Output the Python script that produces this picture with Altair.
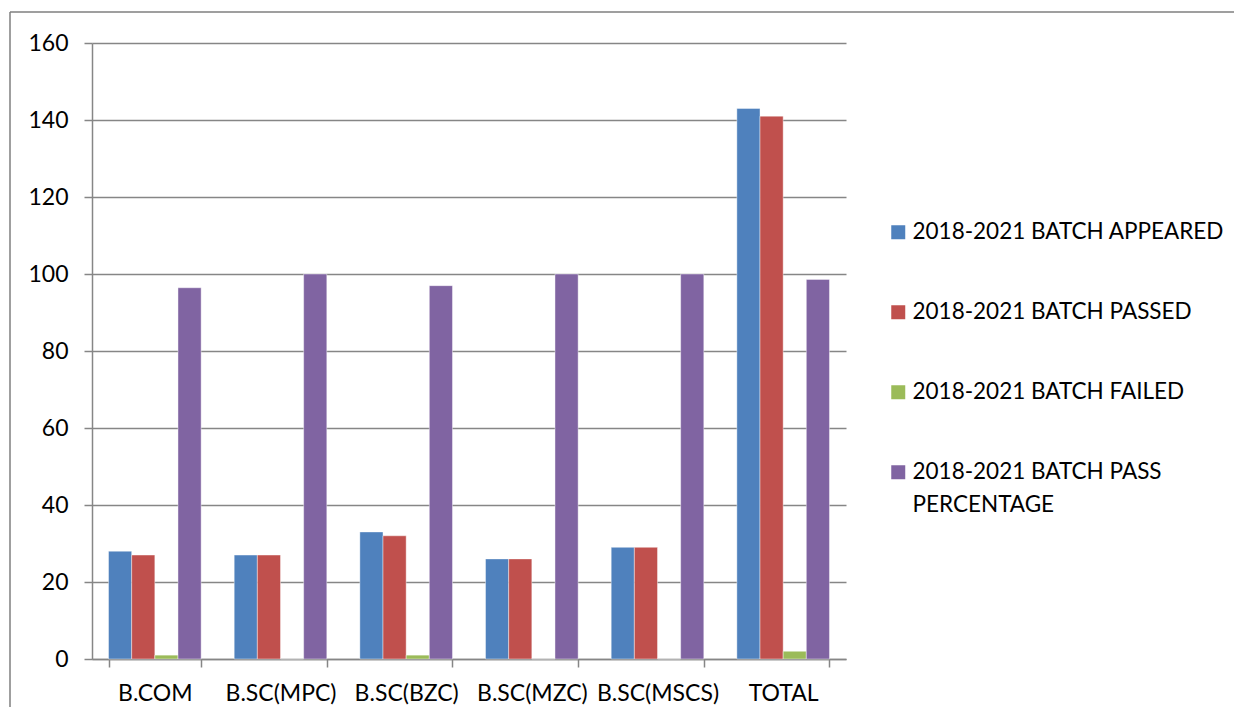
import altair as alt
import pandas as pd

categories = ["B.COM", "B.SC(MPC)", "B.SC(BZC)", "B.SC(MZC)", "B.SC(MSCS)", "TOTAL"]
series = [
    "2018-2021 BATCH APPEARED",
    "2018-2021 BATCH PASSED",
    "2018-2021 BATCH FAILED",
    "2018-2021 BATCH PASS PERCENTAGE",
]
appeared = [28, 27, 33, 26, 29, 143]
passed = [27, 27, 32, 26, 29, 141]
failed = [1, 0, 1, 0, 0, 2]
pass_pct = [96.43, 100, 96.97, 100, 100, 98.6]
colors = ["#4F81BD", "#C0504D", "#9BBB59", "#8064A2"]
y_ticks = [0, 20, 40, 60, 80, 100, 120, 140, 160]

rows = []
for s, vals in zip(series, [appeared, passed, failed, pass_pct]):
    for c, v in zip(categories, vals):
        rows.append({"course": c, "series": s, "value": v})
df = pd.DataFrame(rows)

FONT = "Lato"
GREY = "#868686"

bars = alt.Chart(df).mark_bar(stroke="white", strokeWidth=0.6, strokeOpacity=0.7).encode(
    x=alt.X(
        "course:N",
        sort=categories,
        scale=alt.Scale(paddingInner=0.263, paddingOuter=0.1315),
        axis=alt.Axis(
            title=None,
            labelAngle=0,
            tickBand="extent",
            tickSize=8,
            labelPadding=15,
            grid=False,
        ),
    ),
    xOffset=alt.XOffset("series:N", sort=series, scale=alt.Scale(paddingInner=0, paddingOuter=0)),
    y=alt.Y(
        "value:Q",
        scale=alt.Scale(domain=[0, 160], nice=False),
        axis=alt.Axis(title=None, values=y_ticks, tickSize=8, labelPadding=16, grid=True),
    ),
    color=alt.Color(
        "series:N",
        sort=series,
        scale=alt.Scale(domain=series, range=colors),
        legend=alt.Legend(
            title=None,
            orient="none",
            legendX=795,
            legendY=178,
            symbolType="square",
            symbolSize=196,
            symbolStrokeWidth=0,
            labelOffset=3,
            rowPadding=57,
            labelLimit=400,
            labelExpr="datum.label == '2018-2021 BATCH PASS PERCENTAGE' ? ['2018-2021 BATCH PASS', 'PERCENTAGE'] : datum.label",
        ),
    ),
)

border_data = alt.Data(values=[{"k": 1}])
border_left = alt.Chart(border_data).mark_rule(color="#7f7f7f", strokeWidth=1.5).encode(
    x=alt.value(-82), y=alt.value(-31), y2=alt.value(720)
)
border_top = alt.Chart(border_data).mark_rule(color="#7f7f7f", strokeWidth=1.5).encode(
    x=alt.value(-82), x2=alt.value(1200), y=alt.value(-31)
)

chart = alt.layer(border_left, border_top, bars).properties(
    width=754,
    height=616,
    autosize=alt.AutoSizeParams(type="none"),
    padding={"left": 84, "top": 35, "right": 388, "bottom": 48},
).configure(
    style={"guide-label": {"lineHeight": 33}}
).configure_view(stroke=None).configure_axis(
    domainColor=GREY,
    tickColor=GREY,
    gridColor=GREY,
    domainWidth=1.5,
    tickWidth=1.5,
    gridWidth=1.5,
    labelFont=FONT,
    labelFontSize=23,
    labelColor="#000000",
).configure_legend(
    labelFont=FONT,
    labelFontSize=22.5,
    labelColor="#000000",
)

chart.save("out.html", embed_options={"renderer": "svg", "actions": False})
